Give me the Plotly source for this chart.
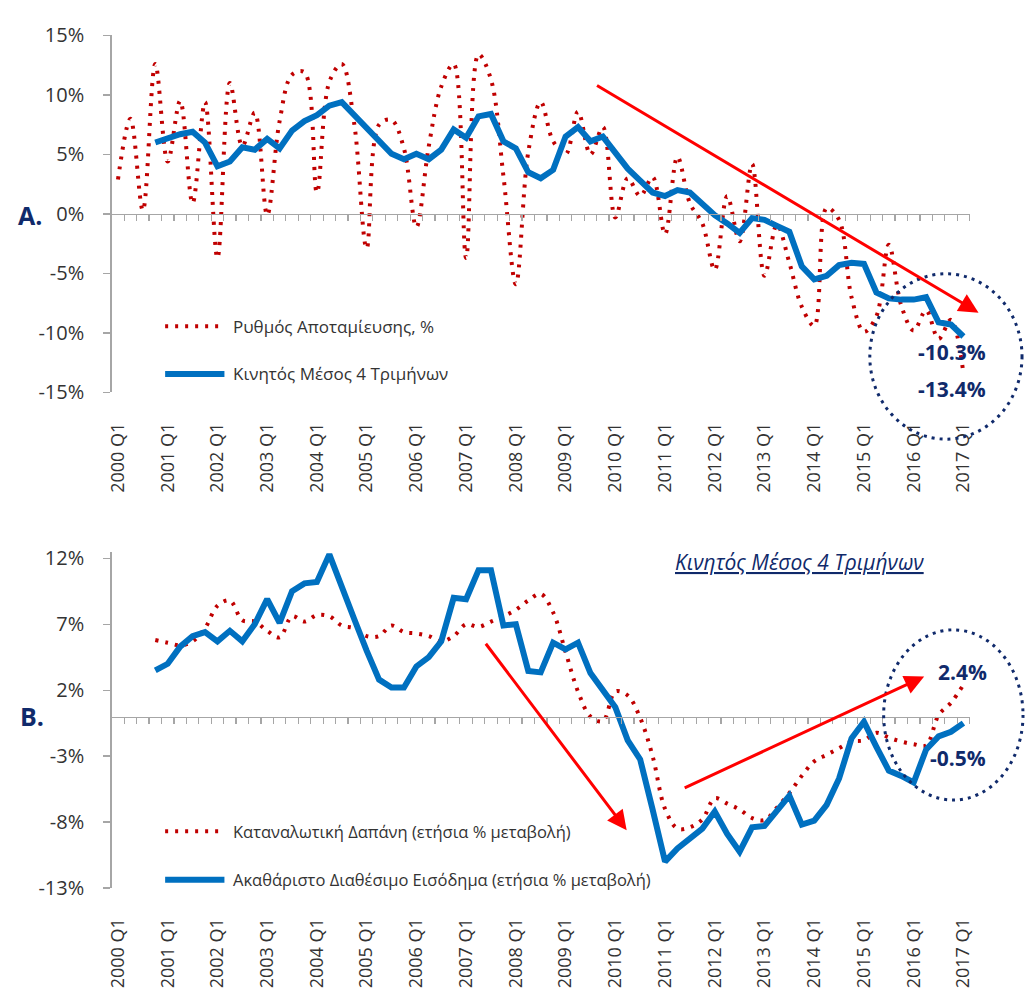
import plotly.graph_objects as go

W, H = 1029, 996

# ---------------- data ----------------
years = list(range(2000, 2018))
quarters = [f"{y} Q{q}" for y in years for q in range(1, 5)][:69]   # 2000 Q1 .. 2017 Q1
year_labels = [f"{y} Q1" for y in years]

# Panel A: household saving rate (%), quarterly
saving_rate = [2.9, 8.0, 0.3, 12.6, 4.4, 9.5, 0.9, 9.4, -3.7, 11.0, 5.7, 8.5, -0.1, 7.8,
               11.7, 11.9, 1.8, 11.1, 12.6, 7.6, -2.9, 7.5, 7.9, 5.5, -1.1, 5.7, 10.7,
               12.6, -3.7, 13.4, 11.3, 3.2, -5.9, 5.2, 9.4, 6.1, 5.0, 8.6, 5.0, 7.3, -0.3,
               3.0, 1.5, 3.1, -1.7, 4.8, 0.9, -0.8, -4.7, 1.5, -2.3, 4.2, -5.2, -0.9,
               -4.1, -7.8, -9.4, 0.5, -0.5, -7.0, -9.9, -8.6, -2.6, -7.7, -9.8, -8.1,
               -10.5, -8.9, -13.4]
# Panel A: 4-quarter moving average (from 2000 Q4)
saving_ma4 = [6.0, 6.4, 6.7, 6.9, 6.0, 4.0, 4.4, 5.6, 5.4, 6.3, 5.5, 7.0, 7.8, 8.3, 9.1,
              9.4, 8.3, 7.2, 6.25, 5.05, 4.6, 5.05, 4.6, 5.4, 7.1, 6.4, 8.2, 8.4, 6.1, 5.5,
              3.5, 3.0, 3.7, 6.5, 7.3, 6.1, 6.5, 5.2, 3.8, 2.8, 1.8, 1.5, 2.0, 1.8, 0.8,
              -0.1, -0.8, -1.6, -0.35, -0.5, -1.0, -1.5, -4.4, -5.5, -5.2, -4.3, -4.1,
              -4.2, -6.6, -7.1, -7.2, -7.2, -7.0, -9.1, -9.3, -10.3]

# Panel B: consumption expenditure, annual % change (4Q MA), from 2000 Q4
consumption = [5.8, 5.6, 5.4, 5.7, 6.7, 8.4, 8.8, 7.3, 7.2, 6.5, 6.0, 7.6, 7.2, 7.7, 7.6,
               6.9, 6.7, 6.1, 6.1, 6.9, 6.4, 6.3, 6.1, 5.7, 6.1, 7.0, 6.8, 7.2, 7.6, 8.1,
               8.8, 9.3, 7.9, 4.9, 1.9, 0.0, -0.35, 1.9, 1.6, -0.1, -3.0, -7.0, -8.5,
               -8.4, -7.8, -6.2, -6.6, -7.05, -7.7, -7.85, -6.9, -5.8, -4.5, -3.4, -2.9,
               -2.4, -1.9, -1.8, -1.23, -1.6, -1.9, -2.1, -2.2, 0.1, 1.05, 2.4]
# Panel B: gross disposable income, annual % change (4Q MA), from 2000 Q4
disp_income = [3.5, 4.0, 5.3, 6.1, 6.4, 5.7, 6.5, 5.7, 7.0, 8.9, 7.1, 9.5, 10.1, 10.2,
               12.3, 9.7, 7.4, 5.0, 2.8, 2.2, 2.2, 3.8, 4.5, 5.7, 9.0, 8.9, 11.1, 11.1,
               6.9, 7.0, 3.45, 3.35, 5.6, 5.1, 5.6, 3.3, 2.05, 0.7, -1.8, -3.25, -7.05,
               -11.0, -10.0, -9.3, -8.5, -7.2, -8.9, -10.25, -8.4, -8.3, -7.2, -6.0, -8.2,
               -7.9, -6.7, -4.7, -1.65, -0.4, -2.3, -4.1, -4.5, -5.0, -2.5, -1.5, -1.15,
               -0.5]

yticksA = [-15, -10, -5, 0, 5, 10, 15]
yticksB = [-13, -8, -3, 2, 7, 12]

name_saving = "Ρυθμός Αποταμίευσης, %"
name_ma = "Κινητός Μέσος 4 Τριμήνων"
name_cons = "Καταναλωτική Δαπάνη (ετήσια % μεταβολή)"
name_inc = "Ακαθάριστο Διαθέσιμο Εισόδημα (ετήσια % μεταβολή)"

# ---------------- styling ----------------
RED = "#C00000"
BLUE = "#0070C0"
NAVY = "#102a6b"
GRAY = "#a6a6a6"
TXT = "#333333"
FONT = "Open Sans"
DOTS = "3px,7px"

idx = list(range(len(quarters)))
idx_ma = idx[3:]


def px(x):
    return x / W


def py(y):
    return 1 - y / H


xdom = [px(106), px(974)]
ydomA = [py(389), py(22)]
ydomB = [py(898.3), py(552.7)]
rangeA = [-15, 15]
rangeB = [-13, 12.5]
zeroA = ydomA[0] + (0 - rangeA[0]) / (rangeA[1] - rangeA[0]) * (ydomA[1] - ydomA[0])
zeroB = ydomB[0] + (0 - rangeB[0]) / (rangeB[1] - rangeB[0]) * (ydomB[1] - ydomB[0])

fig = go.Figure()

fig.add_trace(go.Scatter(x=idx, y=saving_rate, mode="lines", name=name_saving,
                         line=dict(color=RED, width=4, dash=DOTS, shape="spline", smoothing=1.0),
                         xaxis="x", yaxis="y", showlegend=False))
fig.add_trace(go.Scatter(x=idx_ma, y=saving_ma4, mode="lines", name=name_ma,
                         line=dict(color=BLUE, width=6), xaxis="x", yaxis="y", showlegend=False))
fig.add_trace(go.Scatter(x=idx_ma, y=consumption, mode="lines", name=name_cons,
                         line=dict(color=RED, width=4, dash=DOTS, shape="spline", smoothing=1.0),
                         xaxis="x2", yaxis="y2", showlegend=False))
fig.add_trace(go.Scatter(x=idx_ma, y=disp_income, mode="lines", name=name_inc,
                         line=dict(color=BLUE, width=6), xaxis="x2", yaxis="y2", showlegend=False))
# empty traces so the zero-line axes (with quarter tick marks) are drawn
fig.add_trace(go.Scatter(x=[0], y=[None], mode="lines", xaxis="x3", yaxis="y",
                         showlegend=False, hoverinfo="skip"))
fig.add_trace(go.Scatter(x=[0], y=[None], mode="lines", xaxis="x4", yaxis="y2",
                         showlegend=False, hoverinfo="skip"))

tickvals_lbl = idx[::4]
boundaries = [i + 0.5 for i in idx]

common_x = dict(range=[-0.5, 68.5], domain=xdom, showgrid=False, zeroline=False, showline=False,
                tickmode="array", tickvals=tickvals_lbl, ticktext=year_labels, tickangle=-90,
                ticks="outside", ticklen=22, tickcolor="rgba(0,0,0,0)",
                tickfont=dict(family=FONT, size=18, color=TXT))
zero_x = dict(range=[-0.5, 68.5], domain=xdom, anchor="free", showgrid=False, zeroline=False,
              showline=True, linecolor=GRAY, linewidth=1.5, tickmode="array", tickvals=boundaries,
              ticks="outside", ticklen=6, tickwidth=1.2, tickcolor=GRAY, showticklabels=False)
common_y = dict(showgrid=False, zeroline=False, showline=True, linecolor=GRAY, linewidth=1.5,
                ticks="outside", ticklen=7, tickwidth=1.2, tickcolor=GRAY, tickmode="array",
                ticklabelstandoff=15, tickfont=dict(family=FONT, size=20, color=TXT))

fig.update_layout(
    width=W, height=H, margin=dict(l=0, r=0, t=0, b=0),
    paper_bgcolor="white", plot_bgcolor="rgba(0,0,0,0)",
    font=dict(family=FONT, color=TXT),
    hovermode=False,
    xaxis=dict(**common_x, anchor="y"),
    yaxis=dict(**common_y, domain=ydomA, range=rangeA, tickvals=yticksA,
               ticktext=[f"{v}%" for v in yticksA], anchor="x"),
    xaxis2=dict(**common_x, anchor="y2"),
    yaxis2=dict(**common_y, domain=ydomB, range=rangeB, tickvals=yticksB,
                ticktext=[f"{v}%" for v in yticksB], anchor="x2"),
    xaxis3=dict(**zero_x, overlaying="x", position=zeroA),
    xaxis4=dict(**zero_x, overlaying="x2", position=zeroB),
)

shapes = []
annotations = []


def legend_item(y, text, color, dash, width, size):
    shapes.append(dict(type="line", xref="paper", yref="paper", x0=px(160), x1=px(220),
                       y0=py(y), y1=py(y), line=dict(color=color, width=width, dash=dash)))
    annotations.append(dict(xref="paper", yref="paper", x=px(227), y=py(y), text=text,
                            showarrow=False, xanchor="left", yanchor="middle",
                            font=dict(family=FONT, size=size, color=TXT)))


legend_item(321, name_saving, RED, DOTS, 4, 17)
legend_item(370, name_ma, BLUE, "solid", 6, 17)
legend_item(840, name_cons, RED, DOTS, 4, 16.5)
legend_item(890, name_inc, BLUE, "solid", 6, 16.5)

# panel labels
for txt, x, y in [("A.", 9, 207), ("B.", 11, 722)]:
    annotations.append(dict(xref="paper", yref="paper", x=px(x), y=py(y), text=f"<b>{txt}</b>",
                            showarrow=False, xanchor="left", yanchor="middle",
                            font=dict(family=FONT, size=25, color=NAVY)))

# value labels
for txt, x, y in [("-10.3%", 956, 347), ("-13.4%", 956, 385), ("2.4%", 967, 676), ("-0.5%", 962, 765)]:
    annotations.append(dict(xref="paper", yref="paper", x=px(x), y=py(y), text=f"<b>{txt}</b>",
                            showarrow=False, xanchor="center", yanchor="middle",
                            font=dict(family=FONT, size=21, color=NAVY)))

# italic underlined title in panel B
annotations.append(dict(xref="paper", yref="paper", x=px(802), y=py(563),
                        text=f"<i><u>{name_ma}</u></i>", showarrow=False,
                        xanchor="center", yanchor="middle",
                        font=dict(family=FONT, size=21, color=NAVY)))

# red trend arrows (head, tail)
for (hx, hy), (tx, ty) in [((983, 307), (600, 79)), ((627, 839), (485, 651)), ((928, 681), (687, 793))]:
    annotations.append(dict(xref="paper", yref="paper", x=px(hx), y=py(hy), ax=tx - hx, ay=ty - hy,
                            axref="pixel", ayref="pixel", text="", showarrow=True,
                            arrowhead=2, arrowsize=1.3, arrowwidth=3, arrowcolor="#FF0000"))

# dotted circles
for x0, x1, y0, y1 in [(873, 1027, 267, 437), (887, 1028, 633, 808)]:
    shapes.append(dict(type="circle", xref="paper", yref="paper", x0=px(x0), x1=px(x1),
                       y0=py(y1), y1=py(y0), line=dict(color=NAVY, width=3, dash="3px,5px")))

fig.update_layout(shapes=shapes, annotations=annotations)

fig.write_html("out.html", config={"displayModeBar": False, "staticPlot": True},
               post_script="document.body.style.margin='0';document.body.style.overflow='hidden';")
